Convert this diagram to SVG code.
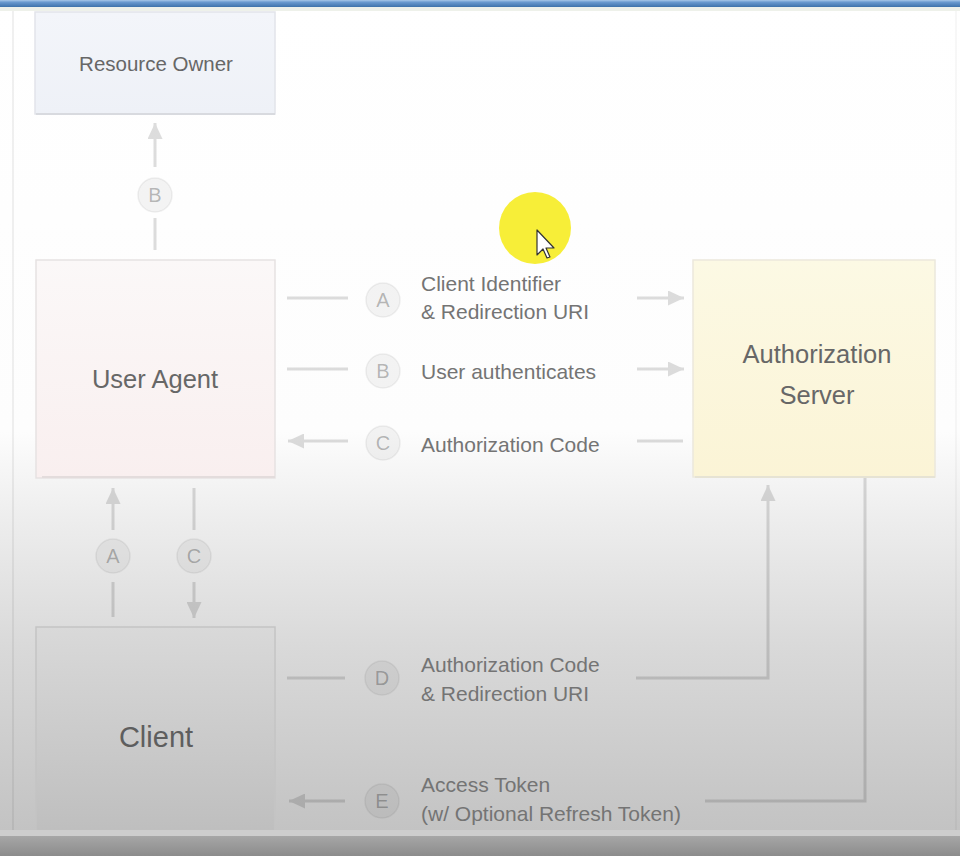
<svg xmlns="http://www.w3.org/2000/svg" width="960" height="856" viewBox="0 0 960 856">
  <defs>
    <linearGradient id="bg" gradientUnits="userSpaceOnUse" x1="0" y1="0" x2="0" y2="830">
      <stop offset="0" stop-color="#ffffff"/>
      <stop offset="0.52" stop-color="#fdfdfd"/>
      <stop offset="0.62" stop-color="#eeeeee"/>
      <stop offset="0.78" stop-color="#d9d9d9"/>
      <stop offset="1" stop-color="#c3c3c3"/>
    </linearGradient>
    <linearGradient id="topbar" x1="0" y1="0" x2="0" y2="1">
      <stop offset="0" stop-color="#a9c8e8"/>
      <stop offset="0.3" stop-color="#6b9bd0"/>
      <stop offset="1" stop-color="#3e72ab"/>
    </linearGradient>
    <linearGradient id="botbar" x1="0" y1="0" x2="0" y2="1">
      <stop offset="0" stop-color="#a6a6a6"/>
      <stop offset="1" stop-color="#8c8c8c"/>
    </linearGradient>
    <linearGradient id="gRO" x1="0" y1="0" x2="0" y2="1">
      <stop offset="0" stop-color="#f3f5fa"/>
      <stop offset="1" stop-color="#eef1f7"/>
    </linearGradient>
    <linearGradient id="gUA" x1="0" y1="0" x2="0" y2="1">
      <stop offset="0" stop-color="#fbf8f8"/>
      <stop offset="1" stop-color="#f9efef"/>
    </linearGradient>
    <linearGradient id="gAS" x1="0" y1="0" x2="0" y2="1">
      <stop offset="0" stop-color="#fcf9e4"/>
      <stop offset="1" stop-color="#fbf4d6"/>
    </linearGradient>
    <linearGradient id="gCL" x1="0" y1="0" x2="0" y2="1">
      <stop offset="0" stop-color="#d9d9d9"/>
      <stop offset="1" stop-color="#bdbdbd"/>
    </linearGradient>
    <marker id="ah" markerUnits="userSpaceOnUse" markerWidth="17" markerHeight="15" refX="16" refY="7.5" orient="auto">
      <path d="M0,0 L16,7.5 L0,15 z" fill="#000"/>
    </marker>
    <style>
      .box { stroke-width: 1.5; }
      .ntext { font-family: "Liberation Sans", Arial, sans-serif; fill: #676767; text-anchor: middle; }
      .lbl { font-family: "Liberation Sans", Arial, sans-serif; font-size: 21px; fill: #747474; }
      .conn { fill: none; stroke: #000; stroke-width: 3; }
      .badge circle { fill: #000; fill-opacity: 0.045; stroke: #000; stroke-opacity: 0.06; stroke-width: 1.5; }
      .badge text { font-family: "Liberation Sans", Arial, sans-serif; font-size: 20px; fill: #000; fill-opacity: 0.27; text-anchor: middle; }
    </style>
  </defs>

  <!-- background -->
  <rect x="0" y="0" width="960" height="856" fill="url(#bg)"/>
  <rect x="0" y="0" width="960" height="7" fill="url(#topbar)"/>
  <rect x="0" y="7" width="960" height="4" fill="#eef1ea"/>
  <line x1="13" y1="11" x2="13" y2="830" stroke="#000" stroke-opacity="0.06" stroke-width="2"/>
  <line x1="956" y1="11" x2="956" y2="830" stroke="#000" stroke-opacity="0.03" stroke-width="2"/>

  <!-- nodes -->
  <g id="node-resource-owner">
    <rect x="35" y="12" width="240" height="102" fill="url(#gRO)" stroke="#e2e4ea" class="box"/>
    <line x1="36" y1="114" x2="275" y2="114" stroke="#d8dadf" stroke-width="2"/>
    <text x="156" y="71" class="ntext" font-size="20.5">Resource Owner</text>
  </g>
  <g id="node-user-agent">
    <rect x="36" y="260" width="239" height="218" fill="url(#gUA)" stroke="#e6e2e2" class="box"/>
    <line x1="42" y1="477" x2="275" y2="477" stroke="#e3dcdc" stroke-width="2"/>
    <text x="155" y="388" class="ntext" font-size="25.5">User Agent</text>
  </g>
  <g id="node-auth-server">
    <rect x="693" y="260" width="242" height="217" fill="url(#gAS)" stroke="#ebe8dc" class="box"/>
    <line x1="695" y1="477" x2="935" y2="477" stroke="#e6e3d4" stroke-width="2"/>
    <text x="817" y="363" class="ntext" font-size="25.5">Authorization</text>
    <text x="817" y="404" class="ntext" font-size="25.5">Server</text>
  </g>
  <g id="node-client">
    <rect x="36" y="627" width="239" height="216" fill="url(#gCL)" stroke="#c4c4c4" class="box"/>
    <text x="156" y="747" class="ntext" font-size="29" style="fill:#5e5e5e">Client</text>
  </g>

  <!-- connectors -->
  <g id="connectors" opacity="0.13">
    <line class="conn" x1="155" y1="167" x2="155" y2="123" marker-end="url(#ah)"/>
    <line class="conn" x1="155" y1="218" x2="155" y2="250"/>

    <line class="conn" x1="287" y1="298" x2="348" y2="298"/>
    <line class="conn" x1="637" y1="298" x2="684" y2="298" marker-end="url(#ah)"/>

    <line class="conn" x1="287" y1="369" x2="348" y2="369"/>
    <line class="conn" x1="637" y1="369" x2="684" y2="369" marker-end="url(#ah)"/>

    <line class="conn" x1="348" y1="441" x2="288" y2="441" marker-end="url(#ah)"/>
    <line class="conn" x1="637" y1="441" x2="683" y2="441"/>

    <line class="conn" x1="113" y1="530" x2="113" y2="488" marker-end="url(#ah)"/>
    <line class="conn" x1="113" y1="582" x2="113" y2="617"/>

    <line class="conn" x1="194" y1="488" x2="194" y2="530"/>
    <line class="conn" x1="194" y1="582" x2="194" y2="618" marker-end="url(#ah)"/>

    <line class="conn" x1="287" y1="678" x2="345" y2="678"/>
    <polyline class="conn" points="636,678 768,678 768,485" marker-end="url(#ah)"/>

    <line class="conn" x1="345" y1="801" x2="289" y2="801" marker-end="url(#ah)"/>
    <polyline class="conn" points="705,801 865,801 865,478"/>
  </g>

  <!-- step badges -->
  <g id="step-badges" class="badge">
    <circle cx="155" cy="195" r="17"/><text x="155" y="202">B</text>
    <circle cx="383" cy="300" r="17"/><text x="383" y="307">A</text>
    <circle cx="383" cy="371" r="17"/><text x="383" y="378">B</text>
    <circle cx="383" cy="443" r="17"/><text x="383" y="450">C</text>
    <circle cx="113" cy="556" r="17"/><text x="113" y="563">A</text>
    <circle cx="194" cy="556" r="17"/><text x="194" y="563">C</text>
    <circle cx="382" cy="678" r="17"/><text x="382" y="685">D</text>
    <circle cx="382" cy="801" r="17"/><text x="382" y="808">E</text>
  </g>

  <!-- connector labels -->
  <g id="connector-labels" class="lbl">
    <text x="421" y="291">Client Identifier</text>
    <text x="421" y="319">&amp; Redirection URI</text>
    <text x="421" y="379">User authenticates</text>
    <text x="421" y="452">Authorization Code</text>
    <text x="421" y="672">Authorization Code</text>
    <text x="421" y="701">&amp; Redirection URI</text>
    <text x="421" y="792">Access Token</text>
    <text x="421" y="821">(w/ Optional Refresh Token)</text>
  </g>

  <!-- bottom bars -->
  <rect x="0" y="830" width="960" height="6" fill="#cdcdcd"/>
  <rect x="0" y="836" width="960" height="20" fill="url(#botbar)"/>

  <!-- cursor highlight -->
  <circle cx="535" cy="228" r="36" fill="#f7ee38"/>
  <polygon points="537,230 537,255 543,249 547,258 550,257 546,248 554,248" fill="#ffffff" stroke="#333333" stroke-width="1.2" stroke-linejoin="round"/>
</svg>
